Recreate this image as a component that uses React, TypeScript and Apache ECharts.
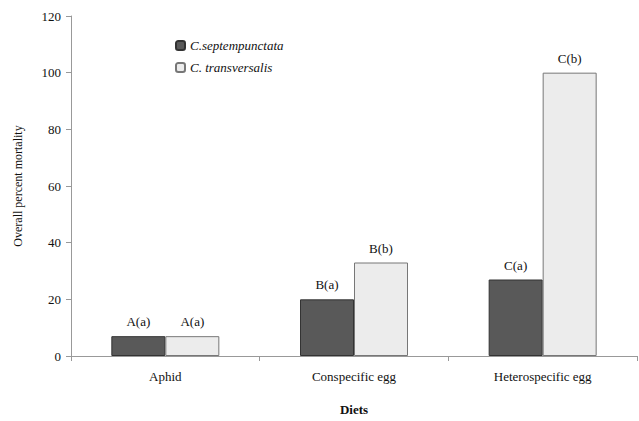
import React, { useEffect, useRef } from "react";
import * as echarts from "echarts";

const categories = ["Aphid", "Conspecific egg", "Heterospecific egg"];
const septValues = [7, 20, 27];
const transValues = [7, 33, 100];
const septLabels = ["A(a)", "B(a)", "C(a)"];
const transLabels = ["A(a)", "B(b)", "C(b)"];
const seriesNames = ["C.septempunctata", "C. transversalis"];
const yTicks = [0, 20, 40, 60, 80, 100, 120];

const FONT = "'Liberation Serif', 'Times New Roman', serif";

export default function App() {
  const ref = useRef<HTMLDivElement>(null);
  useEffect(() => {
    if (!ref.current) return;
    const chart = echarts.init(ref.current, null, { renderer: "svg" });
    chart.setOption({
      animation: false,
      textStyle: { fontFamily: FONT },
      grid: { left: 71, right: 2, top: 16, bottom: 64 },
      legend: {
        orient: "vertical",
        left: 170,
        top: 34,
        itemWidth: 9,
        itemHeight: 9,
        itemGap: 9,
        data: seriesNames,
        textStyle: { fontFamily: FONT, fontStyle: "italic", fontSize: 13, color: "#111" },
      },
      xAxis: {
        type: "category",
        data: categories,
        name: "Diets",
        nameLocation: "middle",
        nameGap: 47,
        nameTextStyle: { fontFamily: FONT, fontWeight: "bold", fontSize: 13, color: "#111" },
        axisLine: { lineStyle: { color: "#999" } },
        axisTick: { show: true, alignWithLabel: false, length: 5, lineStyle: { color: "#999" } },
        axisLabel: { fontFamily: FONT, fontSize: 13, color: "#111", margin: 14 },
      },
      yAxis: {
        type: "value",
        min: yTicks[0],
        max: yTicks[yTicks.length - 1],
        interval: 20,
        name: "Overall percent mortality",
        nameLocation: "middle",
        nameGap: 47,
        nameTextStyle: { fontFamily: FONT, fontSize: 12, color: "#111" },
        axisLine: { show: true, lineStyle: { color: "#999" } },
        axisTick: { show: true, length: 5, lineStyle: { color: "#999" } },
        splitLine: { show: false },
        axisLabel: { fontFamily: FONT, fontSize: 13, color: "#111", margin: 10 },
      },
      series: [
        {
          name: seriesNames[0],
          type: "bar",
          data: septValues,
          barWidth: 54,
          barGap: "0%",
          itemStyle: { color: "#595959", borderColor: "#333", borderWidth: 1 },
          label: {
            show: true,
            position: "top",
            distance: 8,
            fontFamily: FONT,
            fontSize: 13,
            color: "#111",
            formatter: (p: any) => septLabels[p.dataIndex],
          },
        },
        {
          name: seriesNames[1],
          type: "bar",
          data: transValues,
          barWidth: 54,
          barGap: "0%",
          itemStyle: { color: "#ececec", borderColor: "#777", borderWidth: 1 },
          label: {
            show: true,
            position: "top",
            distance: 8,
            fontFamily: FONT,
            fontSize: 13,
            color: "#111",
            formatter: (p: any) => transLabels[p.dataIndex],
          },
        },
      ],
    });
    return () => chart.dispose();
  }, []);
  return (
    <div
      ref={ref}
      style={{ position: "absolute", left: 0, top: 0, width: 639, height: 421 }}
    />
  );
}
